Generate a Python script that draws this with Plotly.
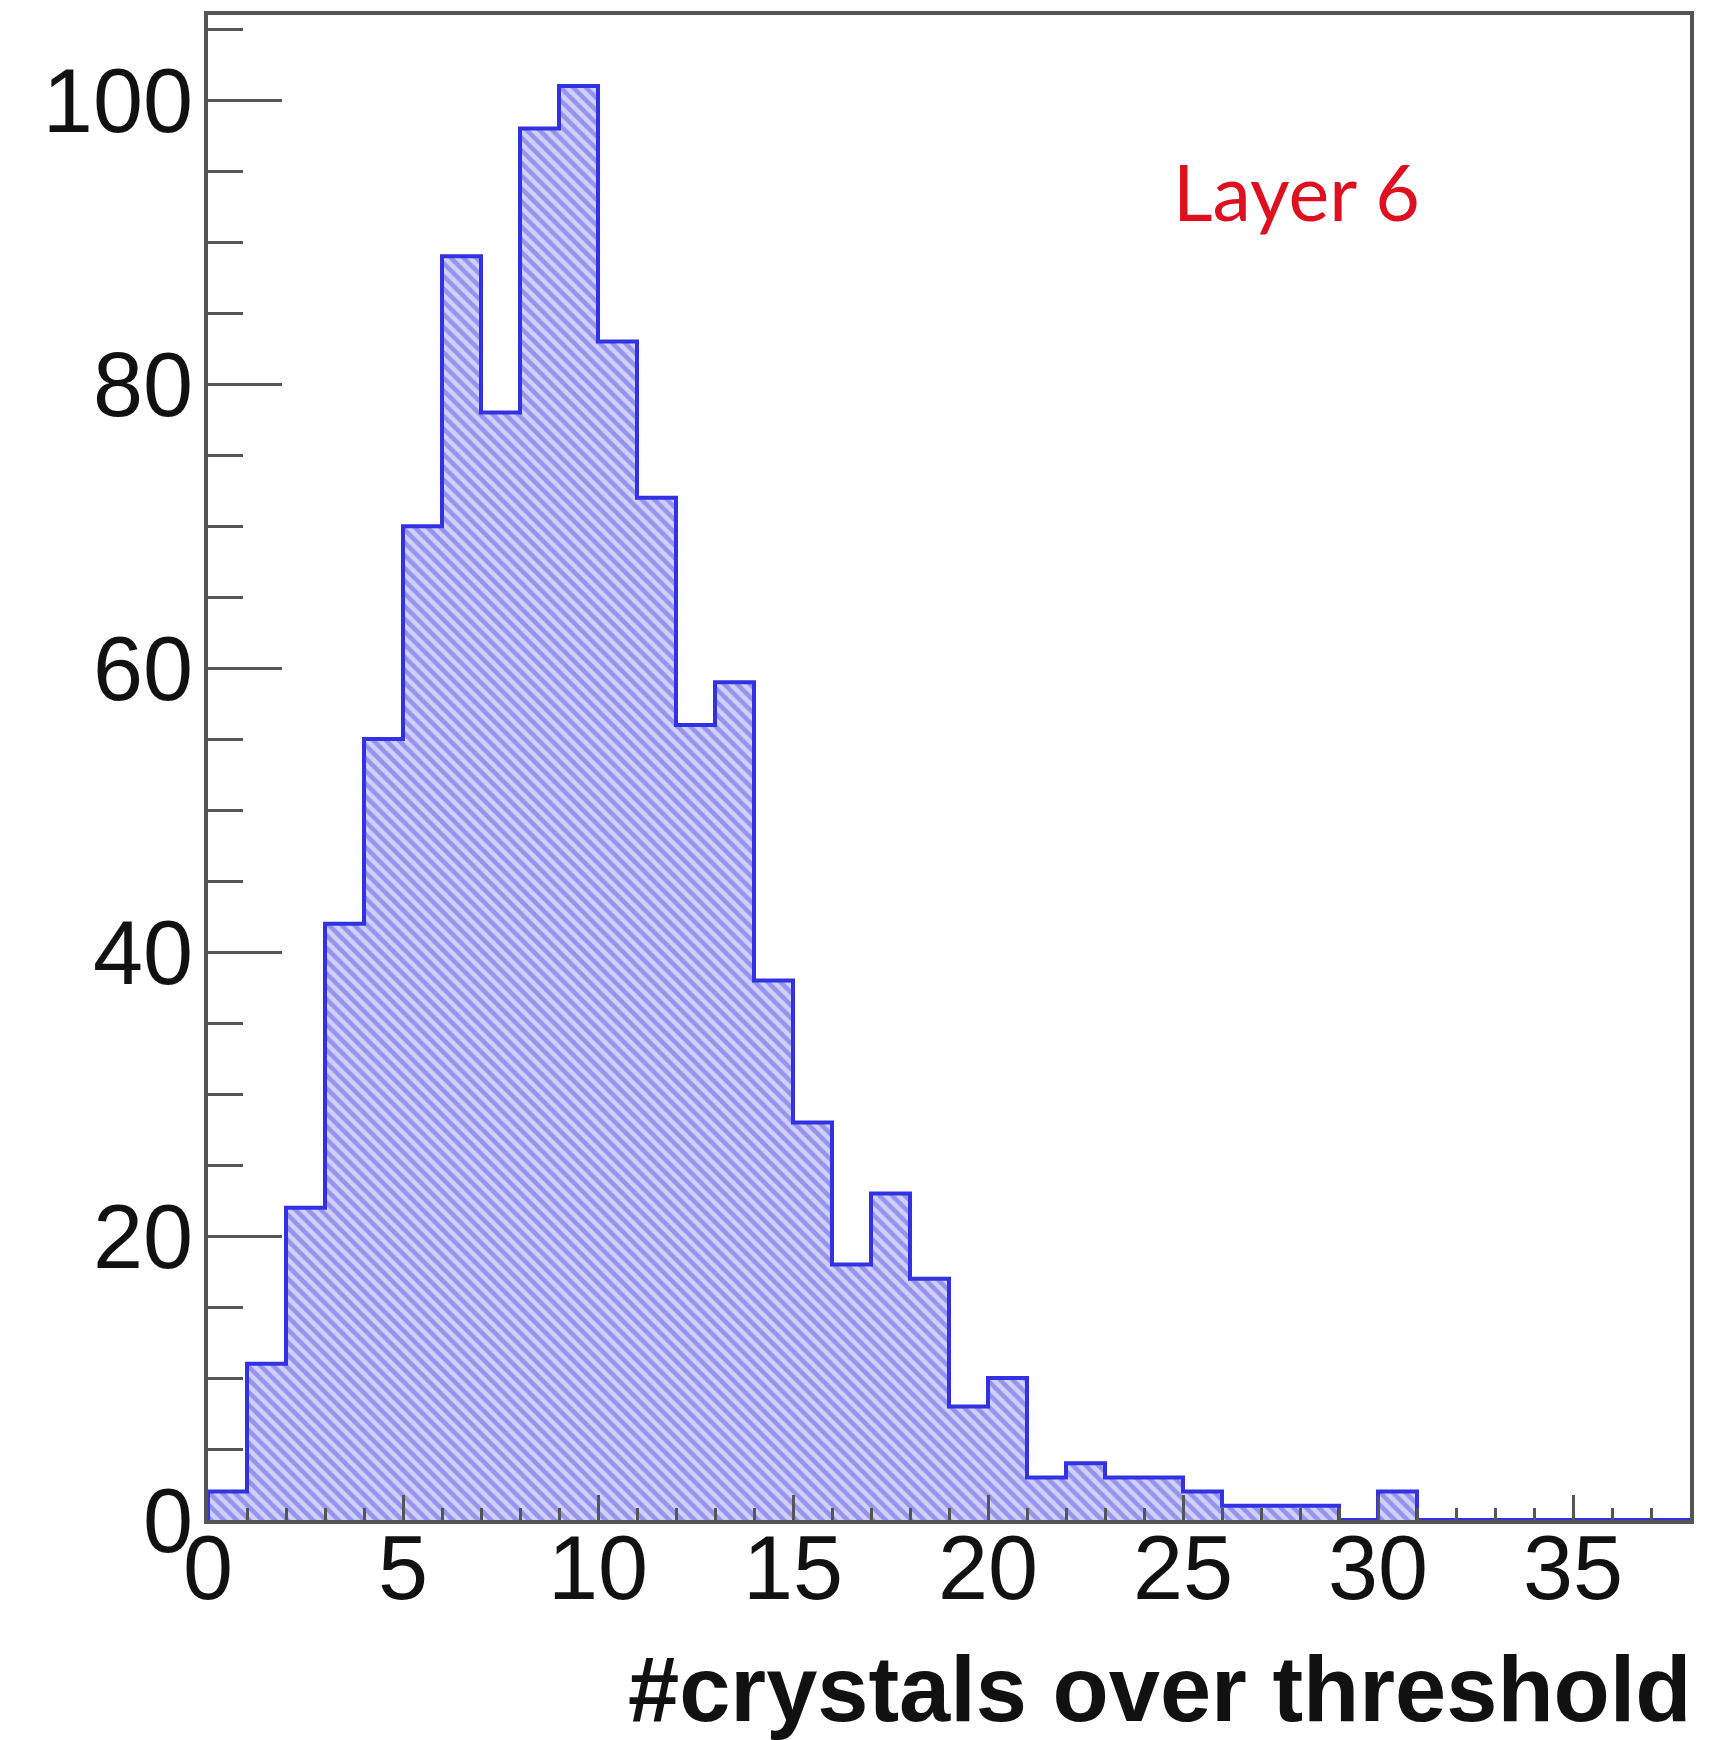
import plotly.graph_objects as go

# Histogram: number of crystals above threshold, layer 6 (unit-width bins from 0 to 38)
bin_low_edges = list(range(0, 38))
counts = [2, 11, 22, 42, 55, 70, 89, 78, 98, 101,
          83, 72, 56, 59, 38, 28, 18, 23, 17, 8,
          10, 3, 4, 3, 3, 2, 1, 1, 1, 0,
          2, 0, 0, 0, 0, 0, 0, 0]
x_ticks = [0, 5, 10, 15, 20, 25, 30, 35]
y_ticks = [0, 20, 40, 60, 80, 100]
x_title = "#crystals over threshold"
label_text = "Layer 6"

bin_width = 1
centers = [e + bin_width / 2 for e in bin_low_edges]

# step outline: start on the baseline, then one point per bin edge
step_x = [bin_low_edges[0]] + bin_low_edges + [bin_low_edges[-1] + bin_width]
step_y = [0] + counts + [counts[-1]]

fig = go.Figure()

fig.add_trace(go.Bar(
    x=centers,
    y=counts,
    width=bin_width,
    marker=dict(
        color="rgb(200,200,250)",
        line=dict(width=0),
        pattern=dict(
            shape="\\",
            fgcolor="rgb(88,88,228)",
            bgcolor="rgb(208,208,250)",
            size=9,
            solidity=0.5,
        ),
    ),
    showlegend=False,
    hoverinfo="skip",
))

fig.add_trace(go.Scatter(
    x=step_x,
    y=step_y,
    mode="lines",
    line=dict(shape="hv", color="rgb(50,50,228)", width=4),
    showlegend=False,
    hoverinfo="skip",
))

axis_color = "#555555"
tick_font = dict(family="Liberation Sans, Arial, sans-serif", size=90, color="#111111")

fig.update_xaxes(
    range=[0, 38],
    tickmode="array",
    tickvals=x_ticks,
    ticktext=[str(v) for v in x_ticks],
    ticks="inside",
    ticklen=25,
    tickwidth=3,
    tickcolor=axis_color,
    minor=dict(dtick=1, tick0=0, ticks="inside", ticklen=12, tickwidth=2.5, tickcolor=axis_color),
    showline=True,
    linewidth=4,
    linecolor=axis_color,
    mirror=True,
    showgrid=False,
    zeroline=False,
    tickfont=tick_font,
    ticklabelstandoff=-33,
)

fig.update_yaxes(
    range=[0, 106],
    tickmode="array",
    tickvals=y_ticks,
    ticktext=[str(v) for v in y_ticks],
    ticks="inside",
    ticklen=74,
    tickwidth=3,
    tickcolor=axis_color,
    minor=dict(dtick=5, tick0=0, ticks="inside", ticklen=35, tickwidth=2.5, tickcolor=axis_color),
    showline=True,
    linewidth=4,
    linecolor=axis_color,
    mirror=True,
    showgrid=False,
    zeroline=False,
    tickfont=tick_font,
    ticklabelstandoff=-7,
)

fig.add_annotation(
    text=f"<b>{x_title}</b>",
    xref="paper", yref="paper",
    x=1.003, y=-0.077,
    xanchor="right", yanchor="top",
    showarrow=False,
    font=dict(family="Liberation Sans, Arial, sans-serif", size=92, color="#111111"),
)

fig.add_annotation(
    text=label_text,
    xref="x", yref="y",
    x=27.9, y=93.6,
    xanchor="center", yanchor="middle",
    showarrow=False,
    font=dict(family="Lato, Open Sans, sans-serif", size=77, color="rgb(222,16,32)"),
)

fig.update_layout(
    width=1736,
    height=1740,
    margin=dict(l=208, r=46, t=15, b=220),
    paper_bgcolor="white",
    plot_bgcolor="white",
    bargap=0,
)

fig.write_html("out.html")
